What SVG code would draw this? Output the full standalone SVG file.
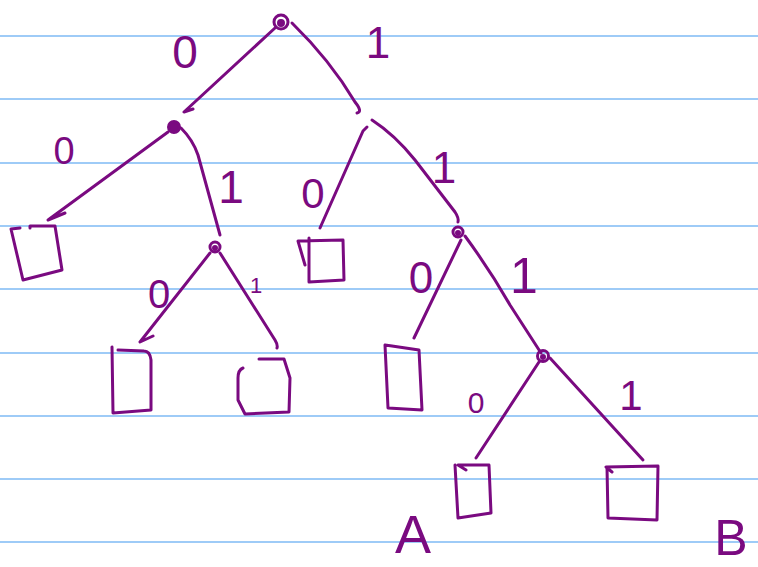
<svg xmlns="http://www.w3.org/2000/svg" width="758" height="567" viewBox="0 0 758 567">
<style>
.rule{stroke:#9ecbf7;stroke-width:2}
.ink{fill:none;stroke:#7a0a80;stroke-width:3;stroke-linecap:round;stroke-linejoin:round}
.dot{fill:#7a0a80;stroke:#7a0a80;stroke-width:3}
.lbl{fill:#7a0a80;font-family:"Liberation Sans",Arial,sans-serif;text-anchor:middle}
</style>
<rect width="758" height="567" fill="#ffffff"/>
<g id="paper">
<line class="rule" x1="0" y1="36" x2="758" y2="36"/>
<line class="rule" x1="0" y1="99" x2="758" y2="99"/>
<line class="rule" x1="0" y1="163" x2="758" y2="163"/>
<line class="rule" x1="0" y1="226" x2="758" y2="226"/>
<line class="rule" x1="0" y1="289" x2="758" y2="289"/>
<line class="rule" x1="0" y1="353" x2="758" y2="353"/>
<line class="rule" x1="0" y1="416" x2="758" y2="416"/>
<line class="rule" x1="0" y1="479" x2="758" y2="479"/>
<line class="rule" x1="0" y1="542" x2="758" y2="542"/>
</g>
<g id="connectors">
<path class="ink" d="M275 28 L184 112 L193 109"/>
<path class="ink" d="M292 23 Q330 60 355 102 Q363 112 357 113"/>
<path class="ink" d="M372 120 Q395 135 415 160 L455 212 Q459 218 458 222"/>
<path class="ink" d="M367 127 L363 131 L320 228"/>
<path class="ink" d="M168 132 L48 220 L65 213"/>
<path class="ink" d="M181 128 Q193 140 198 155 L220 235"/>
<path class="ink" d="M210 253 L140 342 L153 336"/>
<path class="ink" d="M220 253 L275 340 Q278 345 277 348"/>
<path class="ink" d="M461 240 L414 338"/>
<path class="ink" d="M465 236 Q490 270 510 305 L541 353"/>
<path class="ink" d="M539 362 L476 458"/>
<path class="ink" d="M550 358 L643 460"/>
</g>
<g id="root"><circle class="ink" cx="281" cy="22" r="7"/><circle class="dot" cx="281" cy="23" r="2.5"/></g>
<g id="n0"><circle class="dot" cx="174" cy="127" r="5.5"/></g>
<g id="n1"><circle class="ink" cx="458" cy="232" r="5"/><circle class="dot" cx="458" cy="233" r="1.5"/></g>
<g id="n01"><circle class="ink" cx="215" cy="247" r="5"/><circle class="dot" cx="215" cy="248" r="1.5"/></g>
<g id="n11"><circle class="ink" cx="543" cy="356" r="5.5"/><circle class="dot" cx="543" cy="357" r="1.5"/></g>
<g id="leaf00"><path class="ink" d="M20 228 L11 229 L23 280 L62 270 L55 226 L30 226 L30 228"/></g>
<g id="leaf10"><path class="ink" d="M309 238 L309 282 L344 280 L343 240 L298 241 L305 265"/></g>
<g id="leaf010"><path class="ink" d="M112 347 L113 413 L151 410 L151 360 Q150 351 144 351 L118 350"/></g>
<g id="leaf011"><path class="ink" d="M243 368 Q238 370 238 378 L238 400 L245 414 L289 412 L290 378 L284 359 L259 359"/></g>
<g id="leaf110"><path class="ink" d="M385 345 L388 408 L422 410 L419 350 L392 346 L385 345"/></g>
<g id="leafA"><path class="ink" d="M466 470 L458 465 L489 465 L491 513 L458 518 L455 465"/></g>
<g id="leafB"><path class="ink" d="M612 472 L606 467 L658 466 L657 520 L608 518 L607 467"/></g>
<g id="labels">
<text class="lbl" x="185" y="68" font-size="46">0</text>
<text class="lbl" x="378" y="58" font-size="44">1</text>
<text class="lbl" x="64" y="164" font-size="38">0</text>
<text class="lbl" x="231" y="203" font-size="46">1</text>
<text class="lbl" x="313" y="208" font-size="42">0</text>
<text class="lbl" x="444" y="183" font-size="44">1</text>
<text class="lbl" x="421" y="293" font-size="44">0</text>
<text class="lbl" x="524" y="293" font-size="50">1</text>
<text class="lbl" x="159" y="308" font-size="40">0</text>
<text class="lbl" x="256" y="293" font-size="22">1</text>
<text class="lbl" x="476" y="413" font-size="30">0</text>
<text class="lbl" x="631" y="410" font-size="42">1</text>
<text class="lbl" x="413" y="553" font-size="54">A</text>
<text class="lbl" x="731" y="555" font-size="50">B</text>
</g>
</svg>
